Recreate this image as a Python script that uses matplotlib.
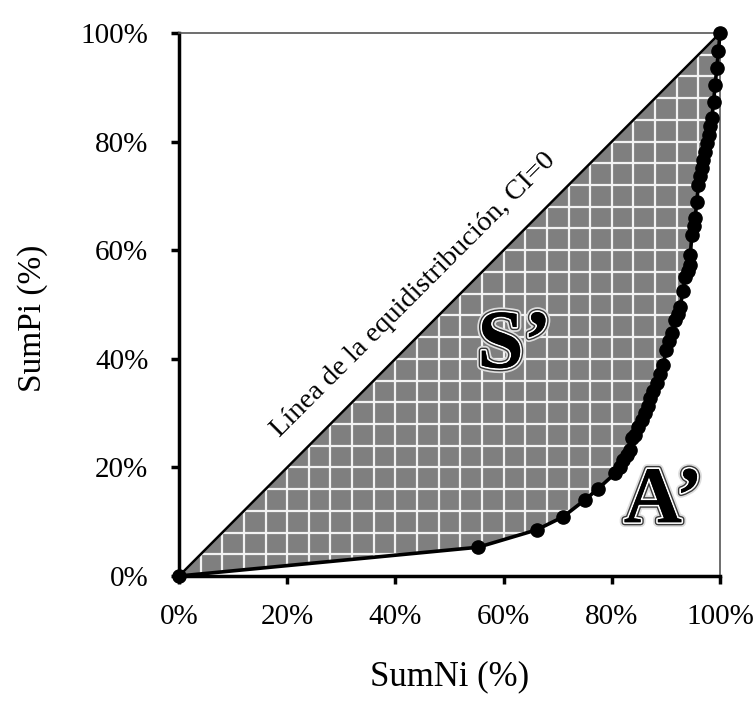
import matplotlib
matplotlib.use("Agg")
import matplotlib.pyplot as plt
import matplotlib.patheffects as pe
from matplotlib.patches import Polygon
import numpy as np

# cumulative shares (%)
sum_ni = [0, 55.3, 66.1, 71.0, 75.0, 77.5, 80.6, 81.5, 82.1, 82.8, 83.4, 83.7,
          84.3, 84.9, 85.5, 86.1, 86.6, 87.1, 87.7, 88.3, 88.9, 89.5, 90.1,
          90.6, 91.1, 91.7, 92.2, 92.6, 93.2, 93.5, 94.0, 94.5, 94.5, 94.8,
          95.1, 95.4, 95.7, 96.0, 96.3, 96.6, 96.9, 97.2, 97.6, 97.9, 98.2,
          98.5, 98.8, 99.1, 99.4, 99.7, 100]
sum_pi = [0, 5.3, 8.5, 10.9, 14.0, 16.1, 18.9, 20.0, 21.4, 22.3, 23.2, 25.4,
          26.0, 27.5, 28.8, 30.0, 31.4, 32.7, 34.1, 35.5, 37.2, 38.9, 41.6,
          43.2, 44.7, 47.1, 48.3, 49.6, 52.4, 55.1, 56.2, 57.3, 59.1, 62.8,
          64.4, 65.9, 68.9, 72.0, 73.6, 75.1, 76.6, 78.1, 79.7, 81.2, 82.8,
          84.3, 87.3, 90.4, 93.5, 96.6, 100]
ticks = [0, 20, 40, 60, 80, 100]
tick_labels = ["0%", "20%", "40%", "60%", "80%", "100%"]
grid_step = 4

plt.rcParams['font.family'] = ['Liberation Serif', 'DejaVu Serif']

fig = plt.figure(figsize=(7.56, 7.04), dpi=100)
ax = fig.add_axes([0.2368, 0.1818, 0.7156, 0.7713])

# shaded area S' between equidistribution line and the curve
verts = [(0, 0), (100, 100)] + list(zip(sum_ni[::-1], sum_pi[::-1]))
poly = Polygon(verts, closed=True, facecolor='#7f7f7f', edgecolor='white',
               linewidth=1.5, zorder=1)
ax.add_patch(poly)

# white grid inside the shaded area
g = np.arange(grid_step, 100, grid_step)
vl = ax.vlines(g, 0, 100, colors='#f2f2f2', linewidth=1.6, zorder=2)
hl = ax.hlines(g, 0, 100, colors='#f2f2f2', linewidth=1.6, zorder=2)
vl.set_clip_path(poly)
hl.set_clip_path(poly)

ax.plot([0, 100], [0, 100], color='black', linewidth=1.8, zorder=3)
ax.plot(sum_ni, sum_pi, color='black', linewidth=2.6, marker='o',
        markersize=9.5, zorder=4, clip_on=False)

ax.text(43.3, 51.8, "Línea de la equidistribución, CI=0", rotation=45,
        ha='center', va='center', fontsize=20.5, rotation_mode='anchor')

effects = [pe.withStroke(linewidth=7, foreground='#dddddd'),
           pe.withStroke(linewidth=4.5, foreground='#3a3a3a'),
           pe.withStroke(linewidth=2.5, foreground='white'),
           pe.Normal()]
ax.text(62.0, 42.0, "S\u2019", fontsize=60, fontweight='bold', ha='center',
        va='center', color='black', path_effects=effects, zorder=5)
ax.text(89.5, 13.5, "A\u2019", fontsize=58, fontweight='bold', ha='center',
        va='center', color='black', path_effects=effects, zorder=5)

ax.set_xlim(0, 100)
ax.set_ylim(0, 100)
ax.set_xticks(ticks)
ax.set_yticks(ticks)
ax.set_xticklabels(tick_labels)
ax.set_yticklabels(tick_labels)
ax.tick_params(axis='both', direction='out', length=6, width=2.5,
               labelsize=21, colors='black')
ax.tick_params(axis='x', pad=14)
ax.tick_params(axis='y', pad=16)

for side in ['left', 'bottom']:
    ax.spines[side].set_linewidth(2.5)
    ax.spines[side].set_color('black')
for side in ['top', 'right']:
    ax.spines[side].set_linewidth(1.2)
    ax.spines[side].set_color('#555555')

ax.set_xlabel("SumNi (%)", fontsize=25)
ax.set_ylabel("SumPi (%)", fontsize=24)
ax.xaxis.set_label_coords(0.5, -0.155)
ax.yaxis.set_label_coords(-0.242, 0.475)

fig.savefig("out.png", dpi=100)
